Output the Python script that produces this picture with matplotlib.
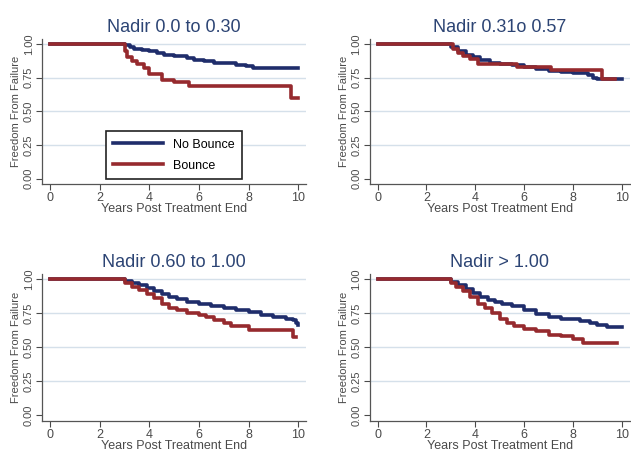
import numpy as np
import matplotlib.pyplot as plt

plt.rcParams['font.family'] = ['Liberation Sans', 'DejaVu Sans']

titles = ['Nadir 0.0 to 0.30', 'Nadir 0.31o 0.57', 'Nadir 0.60 to 1.00', 'Nadir > 1.00']

# No Bounce curves (time, survival) per panel
nb_t1 = [0, 3.0, 3.2, 3.4, 3.7, 4.0, 4.3, 4.6, 5.0, 5.5, 5.8, 6.2, 6.6, 7.0, 7.5, 7.9, 8.2, 10.0]
nb_s1 = [1.0, 0.99, 0.975, 0.965, 0.955, 0.945, 0.93, 0.92, 0.91, 0.895, 0.88, 0.87, 0.86, 0.855, 0.845, 0.835, 0.82, 0.82]
nb_t2 = [0, 3.0, 3.3, 3.6, 3.9, 4.2, 4.6, 5.0, 5.5, 6.0, 6.5, 7.0, 7.5, 8.0, 8.6, 8.8, 9.0, 10.0]
nb_s2 = [1.0, 0.98, 0.95, 0.92, 0.90, 0.88, 0.86, 0.85, 0.84, 0.825, 0.81, 0.80, 0.79, 0.785, 0.77, 0.75, 0.74, 0.74]
nb_t3 = [0, 3.0, 3.3, 3.6, 3.9, 4.2, 4.5, 4.8, 5.1, 5.5, 6.0, 6.5, 7.0, 7.5, 8.0, 8.5, 9.0, 9.5, 9.8, 9.9, 10.0]
nb_s3 = [1.0, 0.985, 0.97, 0.955, 0.935, 0.91, 0.89, 0.87, 0.855, 0.835, 0.815, 0.80, 0.785, 0.77, 0.755, 0.74, 0.725, 0.71, 0.70, 0.68, 0.66]
nb_t4 = [0, 3.0, 3.3, 3.6, 3.9, 4.2, 4.5, 4.8, 5.1, 5.5, 6.0, 6.5, 7.0, 7.5, 8.0, 8.3, 8.7, 9.0, 9.4, 10.0]
nb_s4 = [1.0, 0.98, 0.96, 0.93, 0.90, 0.87, 0.845, 0.83, 0.815, 0.80, 0.77, 0.745, 0.72, 0.71, 0.705, 0.69, 0.675, 0.665, 0.65, 0.65]

# Bounce curves
b_t1 = [0, 3.0, 3.1, 3.3, 3.5, 3.8, 4.0, 4.5, 5.0, 5.6, 9.7, 10.0]
b_s1 = [1.0, 0.95, 0.90, 0.87, 0.85, 0.82, 0.775, 0.735, 0.715, 0.69, 0.60, 0.60]
b_t2 = [0, 3.1, 3.3, 3.5, 3.8, 4.1, 5.7, 7.1, 9.2, 9.7]
b_s2 = [1.0, 0.96, 0.93, 0.91, 0.89, 0.85, 0.825, 0.805, 0.74, 0.74]
b_t3 = [0, 3.0, 3.3, 3.6, 3.9, 4.2, 4.5, 4.8, 5.1, 5.5, 6.0, 6.3, 6.6, 7.0, 7.3, 8.0, 9.8, 9.9]
b_s3 = [1.0, 0.97, 0.94, 0.92, 0.89, 0.86, 0.82, 0.79, 0.77, 0.75, 0.735, 0.72, 0.70, 0.68, 0.655, 0.63, 0.575, 0.575]
b_t4 = [0, 3.0, 3.2, 3.5, 3.8, 4.1, 4.4, 4.7, 5.0, 5.3, 5.6, 6.0, 6.5, 7.0, 7.5, 8.0, 8.4, 9.8]
b_s4 = [1.0, 0.97, 0.94, 0.91, 0.865, 0.82, 0.785, 0.75, 0.71, 0.68, 0.655, 0.635, 0.62, 0.59, 0.58, 0.56, 0.53, 0.53]

nb_curves = [(nb_t1, nb_s1), (nb_t2, nb_s2), (nb_t3, nb_s3), (nb_t4, nb_s4)]
b_curves = [(b_t1, b_s1), (b_t2, b_s2), (b_t3, b_s3), (b_t4, b_s4)]

xticks = [0, 2, 4, 6, 8, 10]
yticks = [0.0, 0.25, 0.5, 0.75, 1.0]

blue = '#1f2d6b'
red = '#962a2e'
title_col = '#2c4474'
txt_col = '#4a4a4a'

fig = plt.figure(figsize=(6.31, 4.53), dpi=100)
rects = [
    [0.067, 0.594, 0.418, 0.321],
    [0.586, 0.594, 0.412, 0.321],
    [0.067, 0.071, 0.418, 0.325],
    [0.586, 0.071, 0.412, 0.325],
]

for i in range(4):
    ax = fig.add_axes(rects[i])
    for y in yticks[1:]:
        ax.axhline(y, color='#d5e0ea', lw=1.0, zorder=0)
    t, s = nb_curves[i]
    ax.step(t, s, where='post', color=blue, lw=2.6, label='No Bounce')
    t, s = b_curves[i]
    ax.step(t, s, where='post', color=red, lw=2.6, label='Bounce')

    ax.set_xlim(-0.32, 10.32)
    ax.set_ylim(-0.04, 1.04)
    ax.set_xticks(xticks)
    ax.set_yticks(yticks)
    ax.set_yticklabels(['%.2f' % v for v in yticks], rotation=90, va='center')
    ax.tick_params(axis='x', labelsize=9, colors=txt_col, length=4, width=0.8, pad=2)
    ax.tick_params(axis='y', labelsize=8, colors=txt_col, length=4, width=0.8, pad=2)
    for sp in ['top', 'right']:
        ax.spines[sp].set_visible(False)
    for sp in ['left', 'bottom']:
        ax.spines[sp].set_color('#555555')
        ax.spines[sp].set_linewidth(0.9)
    ax.set_xlabel('Years Post Treatment End', fontsize=9, color=txt_col, labelpad=-1)
    ax.set_ylabel('Freedom From Failure', fontsize=8, color=txt_col, labelpad=2)
    ax.set_title(titles[i], fontsize=13, color=title_col, pad=5)

    if i == 0:
        leg = ax.legend(loc='lower center', bbox_to_anchor=(0.5, -0.01), fontsize=9,
                        handlelength=4.0, fancybox=False, edgecolor='#222222',
                        framealpha=1, borderpad=0.6, labelspacing=0.7)
        leg.get_frame().set_linewidth(1.2)

fig.savefig('out.png', dpi=100)
